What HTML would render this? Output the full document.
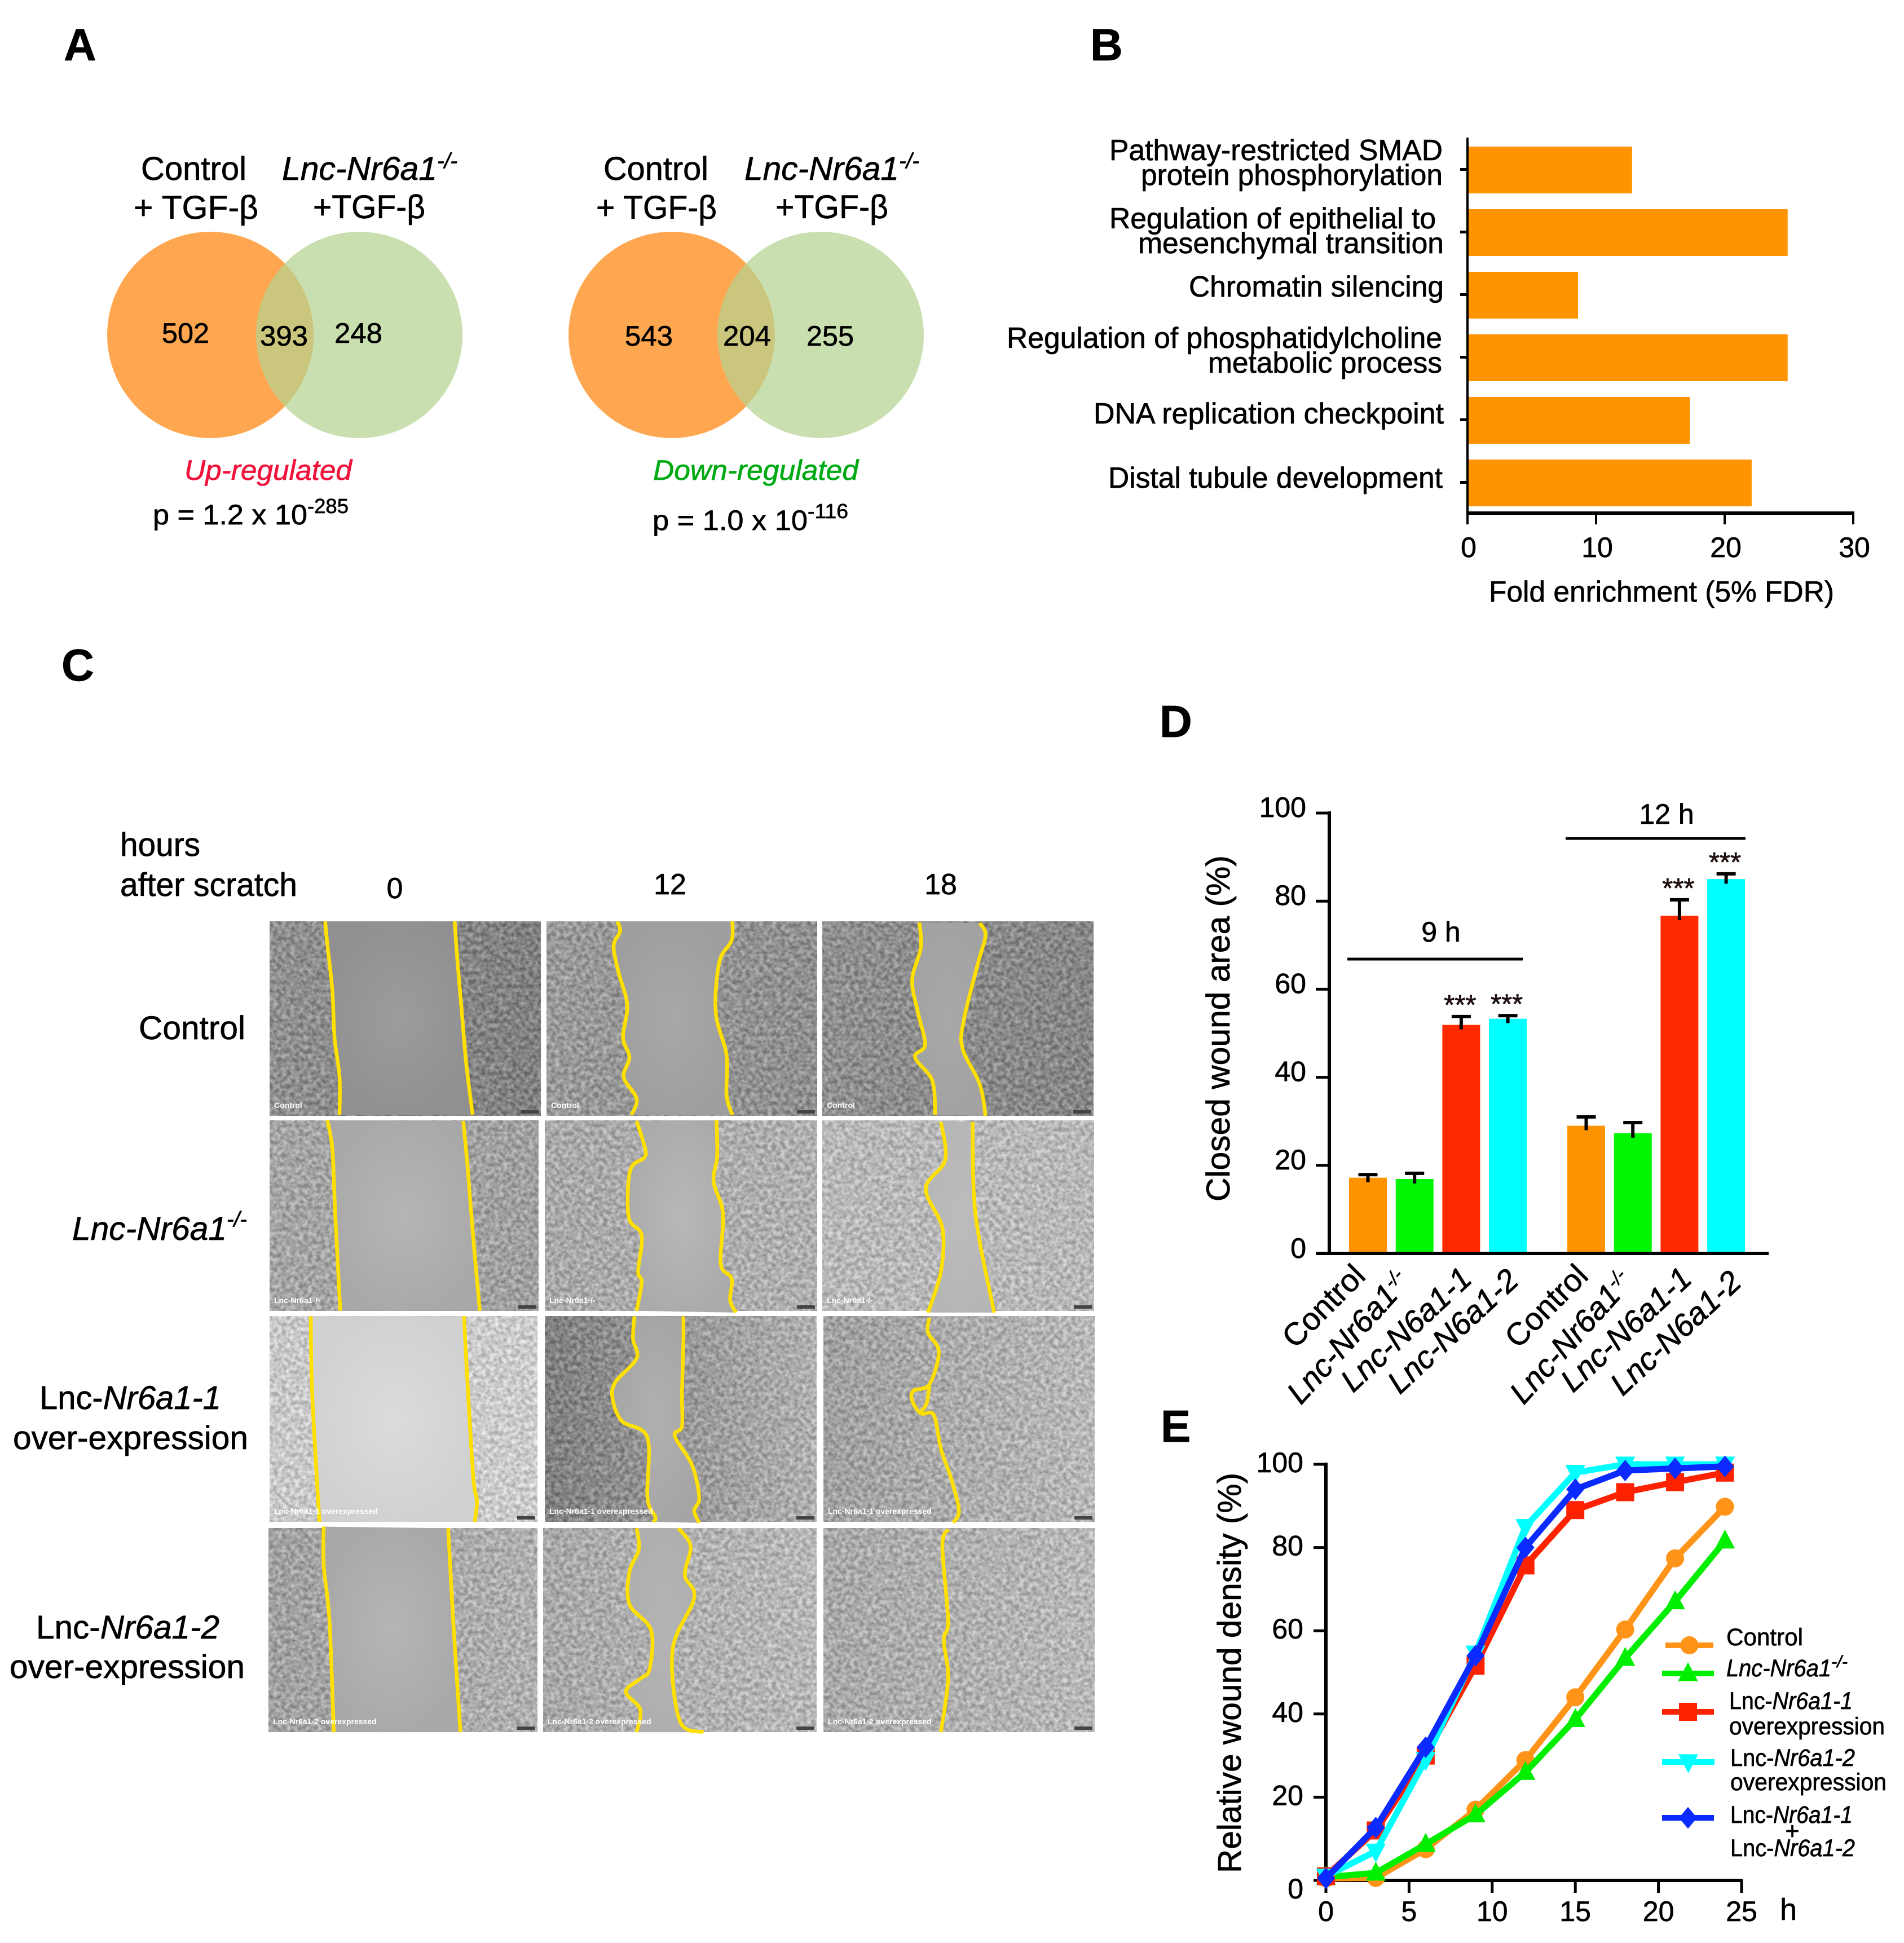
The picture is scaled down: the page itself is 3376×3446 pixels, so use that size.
<!DOCTYPE html>
<html lang="en">
<head>
<meta charset="utf-8">
<title>Lnc-Nr6a1 multi-panel figure</title>
<style>
html,body{margin:0;padding:0;background:#fff;}
svg{display:block;font-family:"Liberation Sans",Arial,sans-serif;fill:#000;}
text{stroke:#000;stroke-width:0.7px;}
text.up{stroke:#f0143c;}
text.down{stroke:#00aa14;}
text.caption{stroke:none;}
</style>
</head>
<body>
<svg id="figure" xmlns="http://www.w3.org/2000/svg" width="3376" height="3446" viewBox="0 0 3376 3446">
<defs>
<filter id="cells" x="0" y="0" width="1" height="1" color-interpolation-filters="sRGB">
<feTurbulence type="fractalNoise" baseFrequency="0.13" numOctaves="2" seed="7" result="n"/>
<feColorMatrix in="n" type="matrix" values="2 0 0 0 -0.5 2 0 0 0 -0.5 2 0 0 0 -0.5 0 0 0 0 1" result="g"/>
<feComposite in="SourceGraphic" in2="g" operator="arithmetic" k1="0" k2="1" k3="0.24" k4="-0.12"/>
</filter>
</defs>
<rect width="3376" height="3446" fill="#fff"/>

<!-- Panel letters -->
<g font-weight="700" font-size="80">
<text x="113" y="107">A</text>
<text x="1933" y="107">B</text>
<text x="109" y="1207">C</text>
<text x="2056" y="1307">D</text>
<text x="2058" y="2557">E</text>
</g>

<!-- Panel A -->
<g>
<circle cx="373" cy="594" r="183" fill="#ffa750"/>
<circle cx="637" cy="594" r="183" fill="#b5d290" fill-opacity="0.72"/>
</g>
<g>
<circle cx="1191" cy="594" r="183" fill="#ffa750"/>
<circle cx="1455" cy="594" r="183" fill="#b5d290" fill-opacity="0.72"/>
</g>
<g font-size="58">
<text x="250" y="319" textLength="187" lengthAdjust="spacingAndGlyphs">Control</text>
<text x="237" y="388" textLength="221" lengthAdjust="spacingAndGlyphs">+ TGF-β</text>
<text x="500" y="319" textLength="275" lengthAdjust="spacingAndGlyphs" font-style="italic">Lnc-Nr6a1</text>
<text x="775" y="298" textLength="36" lengthAdjust="spacingAndGlyphs" font-size="38" font-style="italic">-/-</text>
<text x="555" y="387" textLength="199" lengthAdjust="spacingAndGlyphs">+TGF-β</text>
<text x="1070" y="319" textLength="186" lengthAdjust="spacingAndGlyphs">Control</text>
<text x="1057" y="388" textLength="214" lengthAdjust="spacingAndGlyphs">+ TGF-β</text>
<text x="1320" y="319" textLength="274" lengthAdjust="spacingAndGlyphs" font-style="italic">Lnc-Nr6a1</text>
<text x="1594" y="298" textLength="36" lengthAdjust="spacingAndGlyphs" font-size="38" font-style="italic">-/-</text>
<text x="1375" y="387" textLength="200" lengthAdjust="spacingAndGlyphs">+TGF-β</text>
</g>
<g font-size="50">
<text x="287" y="608" textLength="84" lengthAdjust="spacingAndGlyphs">502</text>
<text x="461" y="613" textLength="85" lengthAdjust="spacingAndGlyphs">393</text>
<text x="593" y="608" textLength="85" lengthAdjust="spacingAndGlyphs">248</text>
<text x="1108" y="613" textLength="85" lengthAdjust="spacingAndGlyphs">543</text>
<text x="1282" y="613" textLength="85" lengthAdjust="spacingAndGlyphs">204</text>
<text x="1430" y="613" textLength="84" lengthAdjust="spacingAndGlyphs">255</text>
<text class="up" x="327" y="851" textLength="297" lengthAdjust="spacingAndGlyphs" font-style="italic" fill="#f0143c">Up-regulated</text>
<text class="down" x="1158" y="851" textLength="364" lengthAdjust="spacingAndGlyphs" font-style="italic" fill="#00aa14">Down-regulated</text>
<text x="271" y="930" textLength="274" lengthAdjust="spacingAndGlyphs">p = 1.2 x 10</text>
<text x="545" y="910" textLength="73" lengthAdjust="spacingAndGlyphs" font-size="36">-285</text>
<text x="1157" y="940" textLength="275" lengthAdjust="spacingAndGlyphs">p = 1.0 x 10</text>
<text x="1432" y="919" textLength="72" lengthAdjust="spacingAndGlyphs" font-size="36">-116</text>
</g>

<!-- Panel B static labels -->
<g font-size="52">
<text x="1967" y="284" textLength="591" lengthAdjust="spacingAndGlyphs">Pathway-restricted SMAD</text>
<text x="2023" y="328" textLength="535" lengthAdjust="spacingAndGlyphs">protein phosphorylation</text>
<text x="1967" y="405" textLength="579" lengthAdjust="spacingAndGlyphs">Regulation of epithelial to</text>
<text x="2018" y="449" textLength="542" lengthAdjust="spacingAndGlyphs">mesenchymal transition</text>
<text x="2108" y="526" textLength="452" lengthAdjust="spacingAndGlyphs">Chromatin silencing</text>
<text x="1785" y="617" textLength="772" lengthAdjust="spacingAndGlyphs">Regulation of phosphatidylcholine</text>
<text x="2142" y="661" textLength="415" lengthAdjust="spacingAndGlyphs">metabolic process</text>
<text x="1939" y="751" textLength="621" lengthAdjust="spacingAndGlyphs">DNA replication checkpoint</text>
<text x="1965" y="865" textLength="593" lengthAdjust="spacingAndGlyphs">Distal tubule development</text>
<text x="2640" y="1067" textLength="612" lengthAdjust="spacingAndGlyphs">Fold enrichment (5% FDR)</text>
</g>

<!-- Panel C static labels -->
<g font-size="58">
<text x="213" y="1518" textLength="142" lengthAdjust="spacingAndGlyphs">hours</text>
<text x="213" y="1589" textLength="314" lengthAdjust="spacingAndGlyphs">after scratch</text>
<text x="700" y="1593" text-anchor="middle" font-size="52">0</text>
<text x="1188" y="1586" text-anchor="middle" font-size="52">12</text>
<text x="1668" y="1586" text-anchor="middle" font-size="52">18</text>
<text x="246" y="1843" textLength="189" lengthAdjust="spacingAndGlyphs">Control</text>
<text x="128" y="2199" textLength="274" lengthAdjust="spacingAndGlyphs" font-style="italic">Lnc-Nr6a1</text>
<text x="402" y="2175" textLength="36" lengthAdjust="spacingAndGlyphs" font-size="38" font-style="italic">-/-</text>
<text x="70" y="2499" textLength="322" lengthAdjust="spacingAndGlyphs">Lnc-<tspan font-style="italic">Nr6a1-1</tspan></text>
<text x="23" y="2570" textLength="417" lengthAdjust="spacingAndGlyphs">over-expression</text>
<text x="64" y="2906" textLength="325" lengthAdjust="spacingAndGlyphs">Lnc-<tspan font-style="italic">Nr6a1-2</tspan></text>
<text x="17" y="2976" textLength="417" lengthAdjust="spacingAndGlyphs">over-expression</text>
</g>
<g id="micrographs"></g>

<!-- Panel D static labels -->
<text transform="translate(2180,2131) rotate(-90)" font-size="58" textLength="614" lengthAdjust="spacingAndGlyphs">Closed wound area (%)</text>
<line x1="2389" x2="2700" y1="1701" y2="1701" stroke="#000" stroke-width="5"/>
<line x1="2776" x2="3095" y1="1487" y2="1487" stroke="#000" stroke-width="5"/>
<text x="2555" y="1670" text-anchor="middle" font-size="50">9 h</text>
<text x="2955" y="1461" text-anchor="middle" font-size="50">12 h</text>
<g font-size="56">
<text transform="translate(2424,2266) rotate(-45)" text-anchor="end">Control</text>
<text transform="translate(2503,2275) rotate(-48)" text-anchor="end" font-style="italic">Lnc-Nr6a1<tspan dy="-18" font-size="34">-/-</tspan></text>
<text transform="translate(2613,2272) rotate(-43)" text-anchor="end" font-style="italic">Lnc-N6a1-1</text>
<text transform="translate(2696,2275) rotate(-43)" text-anchor="end" font-style="italic">Lnc-N6a1-2</text>
<text transform="translate(2819,2266) rotate(-45)" text-anchor="end">Control</text>
<text transform="translate(2898,2275) rotate(-48)" text-anchor="end" font-style="italic">Lnc-Nr6a1<tspan dy="-18" font-size="34">-/-</tspan></text>
<text transform="translate(3003,2272) rotate(-43)" text-anchor="end" font-style="italic">Lnc-N6a1-1</text>
<text transform="translate(3091,2278) rotate(-43)" text-anchor="end" font-style="italic">Lnc-N6a1-2</text>
</g>

<!-- Panel E static labels -->
<text transform="translate(2200,3322) rotate(-90)" font-size="58" textLength="710" lengthAdjust="spacingAndGlyphs">Relative wound density (%)</text>
<text x="3156" y="3405" font-size="54">h</text>
<g font-size="43">
<text x="3061" y="2918" textLength="136" lengthAdjust="spacingAndGlyphs">Control</text>
<text x="3061" y="2973" textLength="186" lengthAdjust="spacingAndGlyphs" font-style="italic">Lnc-Nr6a1</text>
<text x="3247" y="2957" textLength="29" lengthAdjust="spacingAndGlyphs" font-size="30" font-style="italic">-/-</text>
<text x="3066" y="3031" textLength="219" lengthAdjust="spacingAndGlyphs">Lnc-<tspan font-style="italic">Nr6a1-1</tspan></text>
<text x="3066" y="3076" textLength="276" lengthAdjust="spacingAndGlyphs">overexpression</text>
<text x="3068" y="3132" textLength="221" lengthAdjust="spacingAndGlyphs">Lnc-<tspan font-style="italic">Nr6a1-2</tspan></text>
<text x="3068" y="3175" textLength="277" lengthAdjust="spacingAndGlyphs">overexpression</text>
<text x="3068" y="3233" textLength="217" lengthAdjust="spacingAndGlyphs">Lnc-<tspan font-style="italic">Nr6a1-1</tspan></text>
<text x="3178" y="3262" text-anchor="middle">+</text>
<text x="3068" y="3292" textLength="221" lengthAdjust="spacingAndGlyphs">Lnc-<tspan font-style="italic">Nr6a1-2</tspan></text>
</g>
</svg>
<script>
/* ---------- Panel B data ---------- */
const bCategories = ['smad-phosphorylation', 'emt', 'chromatin-silencing', 'phosphatidylcholine', 'dna-replication', 'distal-tubule'];
const bValues = [12.8, 24.9, 8.6, 24.9, 17.3, 22.1];
const bTicks = [0, 10, 20, 30];

/* ---------- Panel D data ---------- */
const dCategories = ['control', 'knockout', 'oe1', 'oe2'];
const dColors = ['#ff9400', '#00f500', '#ff2a00', '#00ffff'];
const d9h = [17.2, 16.9, 51.9, 53.3];
const d9hError = [0.7, 1.3, 1.9, 0.7];
const d12h = [29, 27.3, 76.7, 85];
const d12hError = [2, 2.4, 3.6, 1.2];
const dSignificant = [false, false, true, true];
const dTicks = [0, 20, 40, 60, 80, 100];

/* ---------- Panel E data ---------- */
const eHours = [0, 3, 6, 9, 12, 15, 18, 21, 24];
const eControl = [0.5, 0.6, 7.5, 17, 28.9, 44, 60.3, 77.4, 89.8];
const eKnockout = [0.8, 1.8, 8.7, 15.8, 26, 38.7, 53.4, 67, 81.6];
const eOe1 = [1, 12, 30, 51.6, 75.7, 89, 93.3, 95.7, 98];
const eOe2 = [1, 7, 29, 54.6, 85, 98, 100, 100, 100];
const eCombined = [0.5, 12.7, 32, 54, 80, 94, 98.5, 99, 99.5];
const eYTicks = [0, 20, 40, 60, 80, 100];
const eXTicks = [0, 5, 10, 15, 20, 25];

const NS = 'http://www.w3.org/2000/svg';
const figure = document.getElementById('figure');
function el(tag, attrs, parent) {
  const node = document.createElementNS(NS, tag);
  for (const key in attrs) node.setAttribute(key, attrs[key]);
  (parent || figure).appendChild(node);
  return node;
}

/* ---------- Panel B ---------- */
const xB = v => 2602 + v * 22.8;
const bandB = i => 260 + i * 111;
const bBarHeight = 83;
bCategories.forEach((name, i) => {
  const bar = el('rect', {x: xB(0), y: bandB(i), width: xB(bValues[i]) - xB(0), height: bBarHeight, fill: '#ff9400'});
  
  
  const tick = el('line', {x1: xB(0) - 13, x2: xB(0), y1: bandB(i) + bBarHeight / 2 - 1, y2: bandB(i) + bBarHeight / 2 - 1, stroke: '#000', 'stroke-width': 5});
  
  
});
const bYAxis = el('line', {x1: xB(0), x2: xB(0), y1: 244, y2: 912, stroke: '#000', 'stroke-width': 4});


const bXAxis = el('line', {x1: xB(0) - 2, x2: xB(30) + 2, y1: 910, y2: 910, stroke: '#000', 'stroke-width': 6});


bTicks.forEach(t => {
  const tick = el('line', {x1: xB(t), x2: xB(t), y1: 910, y2: 930, stroke: '#000', 'stroke-width': 4});
  
  
  const label = el('text', {x: xB(t) + 2, y: 988, 'text-anchor': 'middle', 'font-size': 50});
  
  
  label.textContent = t;
});

/* ---------- Panel D ---------- */
const yD = v => 2223 - v * 7.81;
const dGroupStart = [2392, 2779];
const dBarStep = 82.7;
const dBarWidth = 67;
const xD = (group, i) => dGroupStart[group] + i * dBarStep;
[[d9h, d9hError, '9h'], [d12h, d12hError, '12h']].forEach((series, g) => {
  series[0].forEach((value, i) => {
    const left = xD(g, i);
    const mid = left + dBarWidth / 2;
    const top = yD(value + series[1][i]);
    const bar = el('rect', {x: left, y: yD(value), width: dBarWidth, height: yD(0) - yD(value), fill: dColors[i]});
    
    
    const stem = el('line', {x1: mid, x2: mid, y1: top, y2: yD(value) + 8, stroke: '#000', 'stroke-width': 6});
    
    
    const cap = el('line', {x1: mid - 17, x2: mid + 17, y1: top, y2: top, stroke: '#000', 'stroke-width': 6});
    
    
    if (dSignificant[i]) {
      const stars = el('text', {x: mid - 2, y: top - 4, 'text-anchor': 'middle', 'font-size': 49, fill: '#2a1010'});
      
      
      stars.textContent = '***';
    }
  });
});
const dYAxis = el('line', {x1: 2357, x2: 2357, y1: yD(100) - 3, y2: yD(0) + 3, stroke: '#000', 'stroke-width': 6});


const dXAxis = el('line', {x1: 2333, x2: 3136, y1: yD(0), y2: yD(0), stroke: '#000', 'stroke-width': 6});


dTicks.forEach(t => {
  const tick = el('line', {x1: 2333, x2: 2357, y1: yD(t), y2: yD(t), stroke: '#000', 'stroke-width': 5});
  
  
  const label = el('text', {x: 2316, y: yD(t) + (t === 0 ? 8 : 7), 'text-anchor': 'end', 'font-size': 50});
  
  
  label.textContent = t;
});

/* ---------- Panel E ---------- */
const xE = h => 2351 + h * 29.48;
const yE = v => 3335 - v * 7.38;
const eYAxis = el('line', {x1: xE(0), x2: xE(0), y1: yE(100) - 3, y2: yE(0) + 3, stroke: '#000', 'stroke-width': 6});


const eXAxis = el('line', {x1: xE(0), x2: xE(25) + 2, y1: yE(0), y2: yE(0), stroke: '#000', 'stroke-width': 6});


eYTicks.forEach(t => {
  const tick = el('line', {x1: 2329, x2: xE(0), y1: yE(t), y2: yE(t), stroke: '#000', 'stroke-width': 5});
  
  
  const label = el('text', {x: 2311, y: yE(t) + (t === 0 ? 32 : 14), 'text-anchor': 'end', 'font-size': 50});
  
  
  label.textContent = t;
});
eXTicks.forEach(t => {
  const tick = el('line', {x1: xE(t), x2: xE(t), y1: yE(0), y2: 3357, stroke: '#000', 'stroke-width': 5});
  
  
  const label = el('text', {x: xE(t), y: 3407, 'text-anchor': 'middle', 'font-size': 50});
  
  
  label.textContent = t;
});
function marker(kind, cx, cy, color, size) {
  const s = size;
  if (kind === 'circle') return el('circle', {cx: cx, cy: cy, r: s, fill: color});
  if (kind === 'square') return el('rect', {x: cx - s, y: cy - s, width: 2 * s, height: 2 * s, fill: color});
  let pts;
  if (kind === 'up') pts = [[cx, cy - s * 1.25], [cx + s * 1.1, cy + s * 0.85], [cx - s * 1.1, cy + s * 0.85]];
  if (kind === 'down') pts = [[cx, cy + s * 1.25], [cx + s * 1.1, cy - s * 0.85], [cx - s * 1.1, cy - s * 0.85]];
  if (kind === 'diamond') pts = [[cx, cy - s * 1.2], [cx + s, cy], [cx, cy + s * 1.2], [cx - s, cy]];
  return el('polygon', {points: pts.map(p => p.join(',')).join(' '), fill: color});
}
[[eControl, '#ff9419', 'circle', 'control'], [eKnockout, '#00ee00', 'up', 'knockout'], [eOe1, '#ff2200', 'square', 'oe1'], [eOe2, '#00ffff', 'down', 'oe2'], [eCombined, '#0a2aff', 'diamond', 'combined']].forEach(series => {
  const line = el('polyline', {points: eHours.map((h, i) => xE(h) + ',' + yE(series[0][i])).join(' '), fill: 'none', stroke: series[1], 'stroke-width': 11, 'stroke-linejoin': 'round'});
  
  
  eHours.forEach((h, i) => {
    const point = marker(series[2], xE(h), yE(series[0][i]), series[1], 16);
    
    
  });
});
function legendKey(name, kind, color, x1, x2, y) {
  const line = el('line', {x1: x1, x2: x2, y1: y, y2: y, stroke: color, 'stroke-width': 10});
  
  
  const point = marker(kind, (x1 + x2) / 2, y, color, 16);
  
  
}
legendKey('control', 'circle', '#ff9419', 2953, 3038, 2918);
legendKey('knockout', 'up', '#00ee00', 2947, 3039, 2968);
legendKey('oe1', 'square', '#ff2200', 2947, 3039, 3036);
legendKey('oe2', 'down', '#00ffff', 2947, 3040, 3125);
legendKey('combined', 'diamond', '#0a2aff', 2947, 3039, 3224);

/* ---------- Panel C micrographs (illustrative) ---------- */
const upper = p => [p[0] / 0.784, 1400 + p[1] / 1.568];
const lower = p => [p[0] / 0.784, 2300 + p[1] / 1.742];
const micrographs = [
 {n:'control-0h', m:upper, b:[478,1634,481,345], c:['#909090','#808080'], w:['#9c9c9c','#909090'], t:'Control',
  L:[[452,367],[455,430],[462,560],[465,690],[472,800],[472,905]], R:[[632,367],[636,480],[642,620],[648,760],[657,905]]},
 {n:'control-12h', m:upper, b:[969,1634,480,345], c:['#9a9a9a','#8f8f8f'], w:['#a8a8a8','#9e9e9e'], t:'Control',
  L:[[858,367],[862,395],[853,435],[860,510],[872,600],[866,690],[875,745],[867,800],[885,860],[878,905]], R:[[1018,367],[1017,420],[1000,480],[995,620],[1010,740],[1010,850],[1018,905]]},
 {n:'control-18h', m:upper, b:[1458,1634,481,345], c:['#909090','#868686'], w:['#a8a8a8','#a2a2a2'], t:'Control',
  L:[[1278,370],[1280,440],[1268,530],[1276,620],[1286,710],[1272,745],[1296,810],[1300,905]], R:[[1362,372],[1370,405],[1360,480],[1340,640],[1338,720],[1362,820],[1370,908]]},
 {n:'knockout-0h', m:upper, b:[478,1987,477,338], c:['#a5a5a5','#a0a0a0'], w:['#b5b5b5','#a8a8a8'], t:'Lnc-Nr6a1-/-',
  L:[[455,920],[462,1000],[466,1180],[473,1450]], R:[[644,922],[650,1050],[658,1250],[667,1450]]},
 {n:'knockout-12h', m:upper, b:[966,1987,483,338], c:['#a8a8a8','#b0b0b0'], w:['#b8b8b8','#aaaaaa'], t:'Lnc-Nr6a1-/-',
  L:[[885,922],[897,1000],[895,1025],[876,1060],[874,1190],[892,1240],[887,1340],[892,1370],[885,1450]], R:[[996,920],[997,1020],[992,1090],[1005,1180],[1002,1320],[1017,1360],[1015,1420],[1023,1455]]},
 {n:'knockout-18h', m:upper, b:[1458,1987,482,338], c:['#b8b8b8','#b8b8b8'], w:['#bcbcbc','#b6b6b6'], t:'Lnc-Nr6a1-/-',
  L:[[1308,925],[1314,1030],[1287,1110],[1310,1220],[1308,1340],[1290,1455]], R:[[1352,925],[1356,1180],[1382,1455]]},
 {n:'oe1-0h', m:lower, b:[478,2334,475,365], c:['#c8c8c8','#cccccc'], w:['#dcdcdc','#d0d0d0'], t:'Lnc-Nr6a1-1 overexpressed',
  L:[[432,60],[434,300],[444,695]], R:[[645,60],[650,270],[658,560],[663,630],[660,695]]},
 {n:'oe1-12h', m:lower, b:[966,2334,482,365], c:['#808080','#b0b0b0'], w:['#b0b0b0','#a5a5a5'], t:'Lnc-Nr6a1-1 overexpressed',
  L:[[882,60],[880,130],[885,190],[855,265],[852,320],[865,385],[900,435],[900,620],[911,680],[908,695]], R:[[950,60],[950,140],[948,300],[948,400],[938,430],[962,520],[972,620],[965,660],[972,698]]},
 {n:'oe1-18h', m:lower, b:[1460,2334,481,365], c:['#a0a0a0','#b8b8b8'], t:'Lnc-Nr6a1-1 overexpressed',
  L:[[1292,65],[1290,110],[1305,170],[1292,270],[1270,290],[1268,320],[1280,360],[1298,365],[1308,470],[1322,560],[1333,660],[1325,698]], R:[[1292,270],[1288,330],[1278,360]]},
 {n:'oe2-0h', m:lower, b:[476,2710,477,362], c:['#a0a0a0','#b0b0b0'], w:['#b5b5b5','#a8a8a8'], t:'Lnc-Nr6a1-2 overexpressed',
  L:[[450,710],[450,830],[458,1000],[464,1345]], R:[[623,715],[630,1000],[640,1345]]},
 {n:'oe2-12h', m:lower, b:[963,2710,485,362], c:['#a8a8a8','#b8b8b8'], w:['#b4b4b4','#aeaeae'], t:'Lnc-Nr6a1-2 overexpressed',
  L:[[885,715],[888,780],[875,850],[875,950],[905,1030],[903,1150],[890,1180],[870,1220],[890,1275],[885,1345]], R:[[943,715],[960,770],[952,860],[965,930],[935,1090],[945,1310],[978,1345]]},
 {n:'oe2-18h', m:lower, b:[1460,2710,481,362], c:['#a8a8a8','#b8b8b8'], t:'Lnc-Nr6a1-2 overexpressed',
  L:[[1318,718],[1310,770],[1318,1000],[1312,1060],[1318,1180],[1308,1345]]}
];
const defs = figure.querySelector('defs');
const micro = document.getElementById('micrographs');
function smooth(points) {
  let d = 'M' + points[0][0] + ' ' + points[0][1];
  for (let i = 0; i < points.length - 1; i++) {
    const p0 = points[Math.max(i - 1, 0)], p1 = points[i], p2 = points[i + 1], p3 = points[Math.min(i + 2, points.length - 1)];
    d += ' C' + (p1[0] + (p2[0] - p0[0]) / 6) + ' ' + (p1[1] + (p2[1] - p0[1]) / 6) + ' ' + (p2[0] - (p3[0] - p1[0]) / 6) + ' ' + (p2[1] - (p3[1] - p1[1]) / 6) + ' ' + p2[0] + ' ' + p2[1];
  }
  return d;
}
micrographs.forEach(p => {
  const g = el('g', {}, micro);
  
  
  const grad = el('linearGradient', {id: 'cg-' + p.n}, defs);
  el('stop', {offset: '0', 'stop-color': p.c[0]}, grad);
  el('stop', {offset: '1', 'stop-color': p.c[1]}, grad);
  const cellsRect = el('rect', {x: p.b[0], y: p.b[1], width: p.b[2], height: p.b[3], fill: 'url(#cg-' + p.n + ')', filter: 'url(#cells)'}, g);
  
  
  const left = p.L.map(p.m);
  const right = p.R ? p.R.map(p.m) : null;
  if (p.w) {
    const rg = el('radialGradient', {id: 'wg-' + p.n, cx: '0.5', cy: '0.5', r: '0.55'}, defs);
    el('stop', {offset: '0', 'stop-color': p.w[0]}, rg);
    el('stop', {offset: '1', 'stop-color': p.w[1]}, rg);
    const wound = el('polygon', {points: left.concat(right.slice().reverse()).map(q => q.join(',')).join(' '), fill: 'url(#wg-' + p.n + ')'}, g);
    
    
  }
  const edgeL = el('path', {d: smooth(left), fill: 'none', stroke: '#ffe000', 'stroke-width': 6.5, 'stroke-linejoin': 'round'}, g);
  
  
  if (right) {
    const edgeR = el('path', {d: smooth(right), fill: 'none', stroke: '#ffe000', 'stroke-width': 6.5, 'stroke-linejoin': 'round'}, g);
    
    
  }
  const caption = el('text', {x: p.b[0] + 8, y: p.b[1] + p.b[3] - 14, 'font-size': 14, 'font-weight': 700, fill: '#fff', class: 'caption'}, g);
  
  
  caption.textContent = p.t;
  const scale = el('rect', {x: p.b[0] + p.b[2] - 36, y: p.b[1] + p.b[3] - 10, width: 32, height: 6, fill: '#444'}, g);
  
  
});
</script>
</body>
</html>
